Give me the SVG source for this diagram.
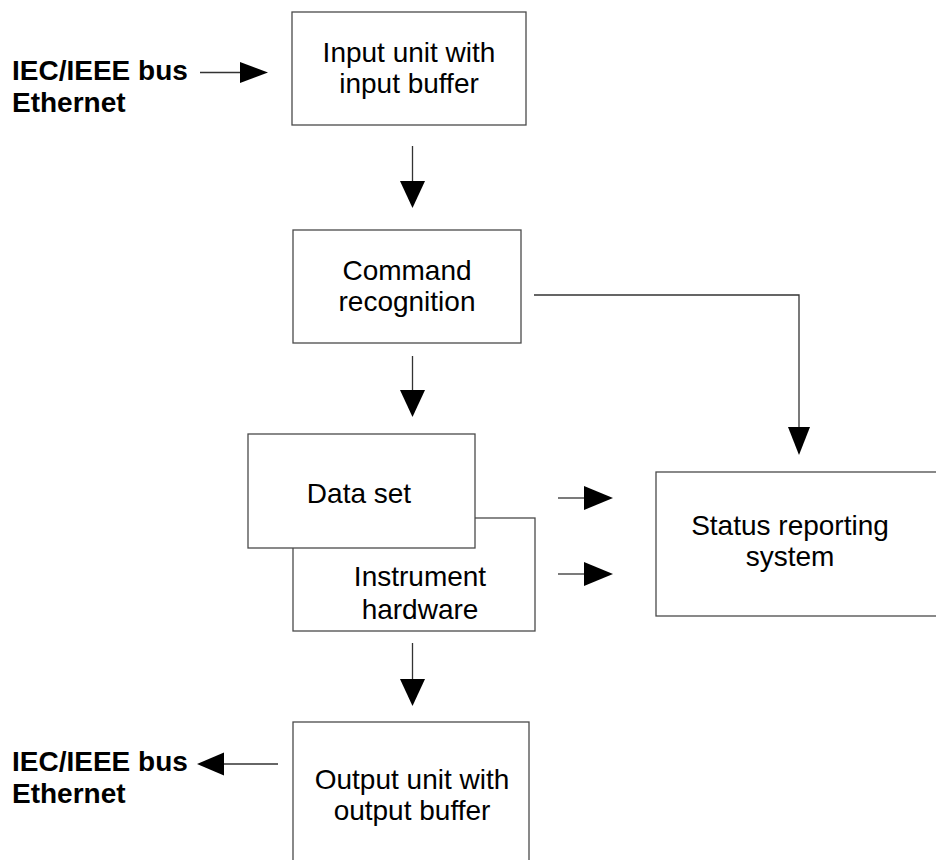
<svg xmlns="http://www.w3.org/2000/svg" width="936" height="860" viewBox="0 0 936 860">
<style>
.box{fill:none;stroke:#4a4a4a;stroke-width:1.3}
.boxw{fill:#fff;stroke:#4a4a4a;stroke-width:1.3}
.t{font-family:"Liberation Sans",Arial,sans-serif;font-size:28px;fill:#000;text-anchor:middle}
.b{font-family:"Liberation Sans",Arial,sans-serif;font-size:28px;font-weight:bold;fill:#000}
.ln{fill:none;stroke:#333;stroke-width:1.3}
.hd{fill:#000;stroke:none}
</style>
<rect width="936" height="860" fill="#fff"/>
<g id="iec-in">
<text class="b" x="12" y="80">IEC/IEEE bus</text>
<text class="b" x="12" y="112">Ethernet</text>
</g>
<g id="input-unit">
<rect class="box" x="292" y="12" width="234" height="113"/>
<text class="t" x="409" y="62">Input unit with</text>
<text class="t" x="409" y="93">input buffer</text>
</g>
<g id="command-recognition">
<rect class="box" x="293" y="230" width="228" height="113"/>
<text class="t" x="407" y="280">Command</text>
<text class="t" x="407" y="311">recognition</text>
</g>
<g id="instrument-hardware">
<rect class="box" x="293" y="518" width="242" height="113"/>
<text class="t" x="420" y="586">Instrument</text>
<text class="t" x="420" y="619">hardware</text>
</g>
<g id="data-set">
<rect class="boxw" x="248" y="434" width="227" height="114"/>
<text class="t" x="359" y="503">Data set</text>
</g>
<g id="status-reporting">
<rect class="box" x="656" y="472" width="300" height="144"/>
<text class="t" x="790" y="535">Status reporting</text>
<text class="t" x="790" y="566">system</text>
</g>
<g id="output-unit">
<rect class="box" x="293" y="722" width="236" height="200"/>
<text class="t" x="412" y="789">Output unit with</text>
<text class="t" x="412" y="820">output buffer</text>
</g>
<g id="iec-out">
<text class="b" x="12" y="771">IEC/IEEE bus</text>
<text class="b" x="12" y="803">Ethernet</text>
</g>
<g id="connectors">
<line class="ln" x1="200" y1="72.5" x2="241" y2="72.5"/>
<polygon class="hd" points="240,62 268,72.5 240,83"/>
<line class="ln" x1="412.5" y1="146" x2="412.5" y2="182"/>
<polygon class="hd" points="400,181 425,181 412.5,208"/>
<line class="ln" x1="412.5" y1="356" x2="412.5" y2="391"/>
<polygon class="hd" points="400,390 425,390 412.5,417"/>
<polyline class="ln" points="534,295 799,295 799,428"/>
<polygon class="hd" points="788,427 810,427 799,455"/>
<line class="ln" x1="558" y1="498" x2="585" y2="498"/>
<polygon class="hd" points="584,486 613,498 584,510"/>
<line class="ln" x1="558" y1="574" x2="585" y2="574"/>
<polygon class="hd" points="584,562 613,574 584,586"/>
<line class="ln" x1="412.5" y1="643" x2="412.5" y2="680"/>
<polygon class="hd" points="400,679 425,679 412.5,706"/>
<line class="ln" x1="278" y1="764" x2="223" y2="764"/>
<polygon class="hd" points="224,752.5 197,764 224,775.5"/>
</g>
</svg>
